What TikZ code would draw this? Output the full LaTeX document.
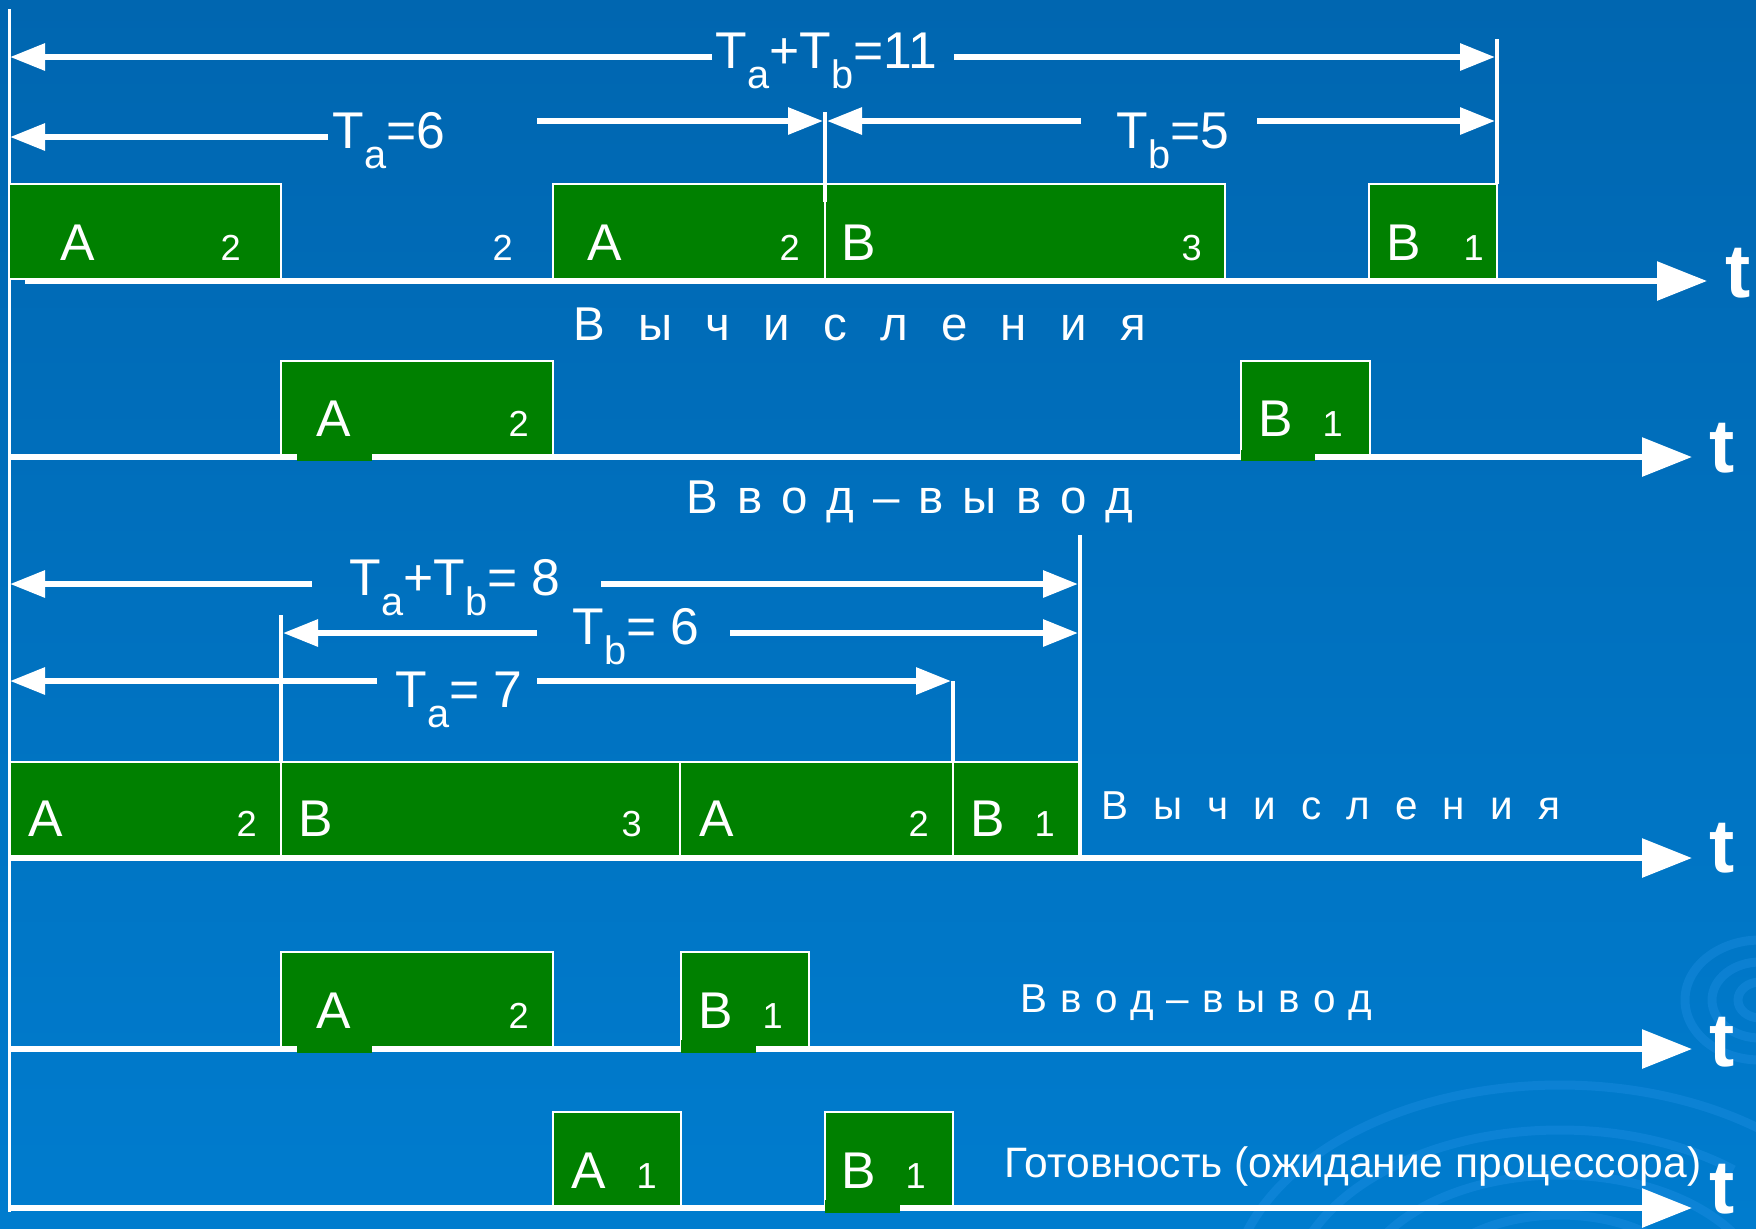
\documentclass[tikz,border=0pt]{standalone}
\usepackage{fontspec}
\setmainfont{Liberation Sans}
\usetikzlibrary{arrows.meta}
\definecolor{bgtop}{RGB}{0,102,176}
\definecolor{bgbot}{RGB}{0,124,206}
\definecolor{seggreen}{RGB}{0,128,0}
\definecolor{swirl}{RGB}{40,150,235}
\newlength\trackgap
\newcommand\tk{\hspace{\trackgap}}
\newcommand\lsub[1]{\raisebox{-5.7pt}{\fontsize{11.3}{12}\selectfont #1}}

\begin{document}
\begin{tikzpicture}[x=0.1mm,y=-0.1mm,
  seg/.style={fill=seggreen, draw=white, line width=0.2mm},
  patch/.style={fill=seggreen},
  lbl/.style={text=white, inner sep=0pt, anchor=base west, font=\fontsize{14.7}{16}\selectfont},
  num/.style={lbl, font=\fontsize{10.3}{12}\selectfont},
  caption/.style={lbl, font=\fontsize{13.5}{16}\selectfont},
  smallcap/.style={lbl, font=\fontsize{11.5}{14}\selectfont},
  tlab/.style={lbl, font=\fontsize{21.5}{24}\selectfont\bfseries},
  dim/.style={draw=white, line width=0.6mm, -{Triangle[length=3.5mm,width=2.6mm]}},
  axis/.style={draw=white, line width=0.6mm, -{Triangle[length=5mm,width=3.8mm]}},
  tick/.style={draw=white, line width=0.35mm},
  ring/.style={draw=swirl, line width=0.9mm, opacity=0.3},
]
% background
\useasboundingbox (0,0) rectangle (1756,1228);
\shade[top color=bgtop, bottom color=bgbot] (0,0) rectangle (1756,1228);
\begin{scope}
  \clip (0,0) rectangle (1756,1228);
  \draw[ring] (1560,1300) ellipse [x radius=330, y radius=215];
  \draw[ring, dash pattern=on 160 off 30] (1560,1300) ellipse [x radius=270, y radius=170];
  \draw[ring] (1560,1300) ellipse [x radius=205, y radius=125];
  \draw[ring, dash pattern=on 90 off 25] (1560,1300) ellipse [x radius=140, y radius=85];
  \draw[ring] (1760,1000) ellipse [x radius=75, y radius=60];
  \draw[ring] (1760,1000) ellipse [x radius=48, y radius=38];
  \draw[ring] (1760,1000) ellipse [x radius=22, y radius=18];
\end{scope}

% left time origin
\coordinate (orgT) at (9,9);
\coordinate (orgB) at (9,1212);
\draw[draw=white, line width=0.3mm] (orgT) -- (orgB);

% ---------- single-program run: processor ----------
\path[seg] (9,184) rectangle (281,279);
\path[seg] (553,184) rectangle (825,279);
\path[seg] (825,184) rectangle (1225,279);
\path[seg] (1369,184) rectangle (1497,279);
\coordinate (ax1s) at (25,281); \coordinate (ax1e) at (1707,281);
\draw[axis] (ax1s) -- (ax1e);
\node[tlab] (t1) at (1725,297) {t};
\node[lbl] (r1a) at (60,260) {A};   \node[num] (r1an) at (220,260) {2};
\node[num] (r1g) at (492,260) {2};
\node[lbl] (r1b) at (587,260) {A};  \node[num] (r1bn) at (779,260) {2};
\node[lbl] (r1c) at (841,260) {B};  \node[num] (r1cn) at (1181,260) {3};
\node[lbl] (r1d) at (1386,260) {B}; \node[num] (r1dn) at (1463,260) {1};

% durations
\coordinate (k1t) at (825,112); \coordinate (k1b) at (825,202);
\coordinate (k2t) at (1497,39); \coordinate (k2b) at (1497,184);
\draw[tick] (k1t) -- (k1b);
\draw[tick] (k2t) -- (k2b);
\coordinate (s1a) at (712,57); \coordinate (s1l) at (10,57);
\coordinate (s1b) at (954,57); \coordinate (s1r) at (1495,57);
\draw[dim] (s1a) -- (s1l); \draw[dim] (s1b) -- (s1r);
\node[lbl] (d11) at (715,68) {T\lsub{a}+T\lsub{b}=11};
\coordinate (s2a) at (328,137); \coordinate (s2l) at (10,137);
\coordinate (s2b) at (537,121); \coordinate (s2r) at (823,121);
\draw[dim] (s2a) -- (s2l); \draw[dim] (s2b) -- (s2r);
\node[lbl] (d6) at (332,148) {T\lsub{a}=6};
\coordinate (s3a) at (1081,121); \coordinate (s3l) at (827,121);
\coordinate (s3b) at (1257,121); \coordinate (s3r) at (1495,121);
\draw[dim] (s3a) -- (s3l); \draw[dim] (s3b) -- (s3r);
\node[lbl] (d5) at (1116,148) {T\lsub{b}=5};

\node[caption] (cap1) at (573,340) {\setlength\trackgap{0.7em}В\tk ы\tk ч\tk и\tk с\tk л\tk е\tk н\tk и\tk я};

% ---------- single-program run: input/output ----------
\path[seg] (281,361) rectangle (553,456);
\path[seg] (1241,361) rectangle (1370,456);
\coordinate (ax2s) at (10,457); \coordinate (ax2e) at (1692,457);
\draw[axis] (ax2s) -- (ax2e);
\fill[patch] (297,450) rectangle (372,461);
\fill[patch] (1241,450) rectangle (1315,461);
\node[tlab] (t2) at (1709,472) {t};
\node[lbl] (r2a) at (316,436) {A};  \node[num] (r2an) at (508,436) {2};
\node[lbl] (r2b) at (1258,436) {B}; \node[num] (r2bn) at (1322,436) {1};
\node[caption] (cap2) at (686,513) {\setlength\trackgap{0.4em}В\tk в\tk о\tk д\tk –\tk в\tk ы\tk в\tk о\tk д};

% ---------- multiprogram run: processor ----------
\path[seg] (10,762) rectangle (281,856);
\path[seg] (281,762) rectangle (680,856);
\path[seg] (680,762) rectangle (953,856);
\path[seg] (953,762) rectangle (1080,856);
\coordinate (ax3s) at (10,858); \coordinate (ax3e) at (1692,858);
\draw[axis] (ax3s) -- (ax3e);
\node[tlab] (t3) at (1709,872) {t};
\node[lbl] (r3a) at (28,836) {A};   \node[num] (r3an) at (236,836) {2};
\node[lbl] (r3b) at (298,836) {B};  \node[num] (r3bn) at (621,836) {3};
\node[lbl] (r3c) at (699,836) {A};  \node[num] (r3cn) at (908,836) {2};
\node[lbl] (r3d) at (970,836) {B};  \node[num] (r3dn) at (1034,836) {1};

\coordinate (k3t) at (1080,535); \coordinate (k3b) at (1080,856);
\coordinate (k4t) at (281,615);  \coordinate (k4b) at (281,762);
\coordinate (k5t) at (953,681);  \coordinate (k5b) at (953,762);
\draw[tick] (k3t) -- (k3b);
\draw[tick] (k4t) -- (k4b);
\draw[tick] (k5t) -- (k5b);
\coordinate (m1a) at (312,584); \coordinate (m1l) at (10,584);
\coordinate (m1b) at (601,584); \coordinate (m1r) at (1078,584);
\draw[dim] (m1a) -- (m1l); \draw[dim] (m1b) -- (m1r);
\node[lbl] (d8) at (349,595) {T\lsub{a}+T\lsub{b}= 8};
\coordinate (m2a) at (537,633); \coordinate (m2l) at (283,633);
\coordinate (m2b) at (730,633); \coordinate (m2r) at (1078,633);
\draw[dim] (m2a) -- (m2l); \draw[dim] (m2b) -- (m2r);
\node[lbl] (db6) at (572,644) {T\lsub{b}= 6};
\coordinate (m3a) at (377,681); \coordinate (m3l) at (10,681);
\coordinate (m3b) at (537,681); \coordinate (m3r) at (951,681);
\draw[dim] (m3a) -- (m3l); \draw[dim] (m3b) -- (m3r);
\node[lbl] (d7) at (395,707) {T\lsub{a}= 7};

\node[smallcap] (cap3) at (1101,819) {\setlength\trackgap{0.62em}В\tk ы\tk ч\tk и\tk с\tk л\tk е\tk н\tk и\tk я};

% ---------- multiprogram run: input/output ----------
\path[seg] (281,952) rectangle (553,1047);
\path[seg] (681,952) rectangle (809,1047);
\coordinate (ax4s) at (10,1049); \coordinate (ax4e) at (1692,1049);
\draw[axis] (ax4s) -- (ax4e);
\fill[patch] (297,1040) rectangle (372,1053);
\fill[patch] (681,1040) rectangle (756,1053);
\node[tlab] (t4) at (1709,1066) {t};
\node[lbl] (r4a) at (316,1028) {A}; \node[num] (r4an) at (508,1028) {2};
\node[lbl] (r4b) at (698,1028) {B}; \node[num] (r4bn) at (762,1028) {1};
\node[smallcap] (cap4) at (1020,1012) {\setlength\trackgap{0.32em}В\tk в\tk о\tk д\tk –\tk в\tk ы\tk в\tk о\tk д};

% ---------- multiprogram run: ready queue ----------
\path[seg] (553,1112) rectangle (681,1207);
\path[seg] (825,1112) rectangle (953,1207);
\coordinate (ax5s) at (10,1208); \coordinate (ax5e) at (1692,1208);
\draw[axis] (ax5s) -- (ax5e);
\fill[patch] (825,1200) rectangle (900,1213);
\node[tlab] (t5) at (1709,1213) {t};
\node[lbl] (r5a) at (571,1188) {A}; \node[num] (r5an) at (636,1188) {1};
\node[lbl] (r5b) at (841,1188) {B}; \node[num] (r5bn) at (905,1188) {1};
\node[lbl, font=\fontsize{12.1}{14}\selectfont] (cap5) at (1004,1177) {Готовность (ожидание процессора)};
\end{tikzpicture}
\end{document}
